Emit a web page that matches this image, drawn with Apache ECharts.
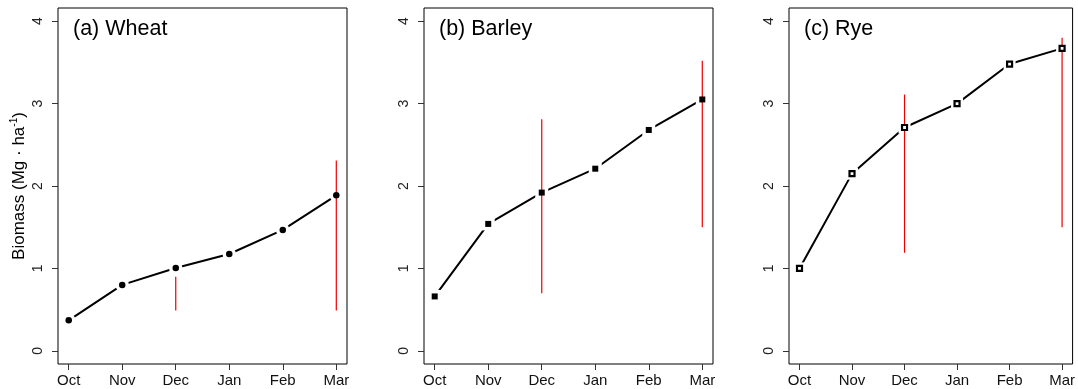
<!DOCTYPE html>
<html><head><meta charset="utf-8">
<script src="https://cdn.jsdelivr.net/npm/echarts@6/dist/echarts.min.js"></script>
<style>html,body{margin:0;padding:0;background:#fff}#c{width:1078px;height:389px}</style>
</head><body><div id="c"></div>
<script>
const months = ['Oct', 'Nov', 'Dec', 'Jan', 'Feb', 'Mar'];
const monthIdx = [0, 1, 2, 3, 4, 5];
const yTicks = [0, 1, 2, 3, 4];
const panelTitles = ['(a) Wheat', '(b) Barley', '(c) Rye'];

const wheat = [0.37, 0.80, 1.005, 1.175, 1.467, 1.887];
const barley = [0.66, 1.54, 1.92, 2.21, 2.68, 3.05];
const rye = [1.00, 2.15, 2.71, 3.00, 3.48, 3.67];

const errMonthIdx = [2, 5];
const wheatErrLow = [0.49, 0.49];
const wheatErrHigh = [0.90, 2.31];
const barleyErrLow = [0.70, 1.50];
const barleyErrHigh = [2.81, 3.52];
const ryeErrLow = [1.19, 1.50];
const ryeErrHigh = [3.11, 3.80];

const FONT = 'Liberation Sans, Arial, sans-serif';
const lefts = [58, 424, 789];
const W = 289, TOP = 8, H = 356;

const seriesVals = [wheat, barley, rye];
const errLows = [wheatErrLow, barleyErrLow, ryeErrLow];
const errHighs = [wheatErrHigh, barleyErrHigh, ryeErrHigh];
const symbols = [
  {symbol: 'circle', size: 6.5, color: '#000', border: '#000', bw: 0},
  {symbol: 'rect', size: 6, color: '#000', border: '#000', bw: 0},
  {symbol: 'rect', size: 5, color: '#fff', border: '#000', bw: 2.2}
];

const grids = [], xAxes = [], yAxes = [], series = [], titles = [];
for (let i = 0; i < 3; i++) {
  grids.push({left: lefts[i], top: TOP, width: W, height: H, show: true,
    borderColor: '#000', borderWidth: 1, backgroundColor: 'transparent'});
  xAxes.push({type: 'value', gridIndex: i, min: -0.2, max: 5.2, position: 'bottom',
    axisLine: {show: false, onZero: false}, splitLine: {show: false},
    axisTick: {show: true, inside: false, length: 6, customValues: monthIdx, lineStyle: {color: '#333'}},
    axisLabel: {show: true, customValues: monthIdx, margin: 9, fontFamily: FONT, fontSize: 15, color: '#111',
      formatter: v => months[Math.round(v)]}
  });
  const ya = {type: 'value', gridIndex: i, min: -0.16, max: 4.16, position: 'left',
    axisLine: {show: false, onZero: false}, splitLine: {show: false},
    axisTick: {show: true, inside: false, length: 6, customValues: yTicks, lineStyle: {color: '#333'}},
    axisLabel: {show: true, customValues: yTicks, rotate: 90, margin: 13, fontFamily: FONT, fontSize: 14, color: '#222'}
  };
  if (i === 0) {
    ya.name = 'Biomass (Mg · ha{sup|-1})';
    ya.nameLocation = 'middle';
    ya.nameRotate = 90;
    ya.nameGap = 29;
    ya.nameTextStyle = {fontFamily: FONT, fontSize: 17, color: '#000',
      rich: {sup: {fontFamily: FONT, fontSize: 10, color: '#000', verticalAlign: 'top', lineHeight: 20}}};
  }
  yAxes.push(ya);
  titles.push({text: panelTitles[i], left: lefts[i] + 15, top: 18, padding: 0,
    textStyle: {fontFamily: FONT, fontSize: 21.5, fontWeight: 'normal', color: '#000'}});

  const pts = monthIdx.map((m, k) => [m, seriesVals[i][k]]);
  series.push({type: 'line', xAxisIndex: i, yAxisIndex: i, data: pts, showSymbol: false,
    lineStyle: {color: '#000', width: 2}, z: 2, silent: true, animation: false});
  series.push({type: 'scatter', xAxisIndex: i, yAxisIndex: i, data: pts,
    symbol: symbols[i].symbol, symbolSize: symbols[i].size + 7,
    itemStyle: {color: '#fff', opacity: 1}, z: 3, silent: true, animation: false});
  series.push({type: 'custom', xAxisIndex: i, yAxisIndex: i,
    data: errMonthIdx.map((m, k) => [m, errLows[i][k], errHighs[i][k]]),
    encode: {x: 0, y: [1, 2]}, z: 4, silent: true, animation: false,
    renderItem: (params, api) => {
      const p1 = api.coord([api.value(0), api.value(1)]);
      const p2 = api.coord([api.value(0), api.value(2)]);
      return {type: 'line', shape: {x1: p1[0], y1: p1[1], x2: p2[0], y2: p2[1]},
        style: {stroke: '#ee0000', lineWidth: 1.2}};
    }});
  series.push({type: 'scatter', xAxisIndex: i, yAxisIndex: i, data: pts,
    symbol: symbols[i].symbol, symbolSize: symbols[i].size,
    itemStyle: {color: symbols[i].color, borderColor: symbols[i].border, borderWidth: symbols[i].bw, opacity: 1},
    z: 5, silent: true, animation: false});
}

const chart = echarts.init(document.getElementById('c'), null, {renderer: 'canvas'});
chart.setOption({animation: false, backgroundColor: '#fff', title: titles,
  grid: grids, xAxis: xAxes, yAxis: yAxes, series: series});
</script></body></html>
